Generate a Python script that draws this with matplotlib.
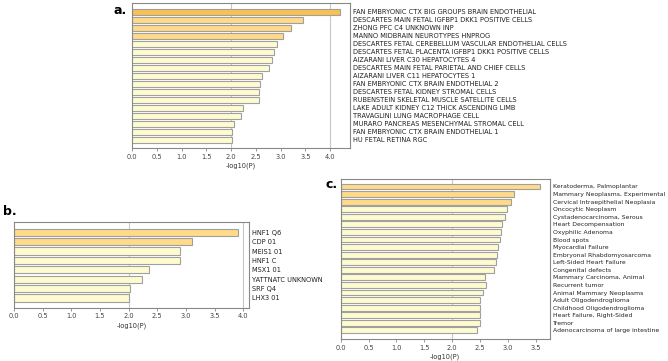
import matplotlib
matplotlib.use("Agg")
import matplotlib.pyplot as plt

# panel a: cell type signatures
a_labels = ["FAN EMBRYONIC CTX BIG GROUPS BRAIN ENDOTHELIAL",
            "DESCARTES MAIN FETAL IGFBP1 DKK1 POSITIVE CELLS",
            "ZHONG PFC C4 UNKNOWN INP",
            "MANNO MIDBRAIN NEUROTYPES HNPROG",
            "DESCARTES FETAL CEREBELLUM VASCULAR ENDOTHELIAL CELLS",
            "DESCARTES FETAL PLACENTA IGFBP1 DKK1 POSITIVE CELLS",
            "AIZARANI LIVER C30 HEPATOCYTES 4",
            "DESCARTES MAIN FETAL PARIETAL AND CHIEF CELLS",
            "AIZARANI LIVER C11 HEPATOCYTES 1",
            "FAN EMBRYONIC CTX BRAIN ENDOTHELIAL 2",
            "DESCARTES FETAL KIDNEY STROMAL CELLS",
            "RUBENSTEIN SKELETAL MUSCLE SATELLITE CELLS",
            "LAKE ADULT KIDNEY C12 THICK ASCENDING LIMB",
            "TRAVAGLINI LUNG MACROPHAGE CELL",
            "MURARO PANCREAS MESENCHYMAL STROMAL CELL",
            "FAN EMBRYONIC CTX BRAIN ENDOTHELIAL 1",
            "HU FETAL RETINA RGC"]
a_values = [4.20, 3.46, 3.20, 3.04, 2.92, 2.87, 2.82, 2.77, 2.62, 2.59,
            2.57, 2.56, 2.24, 2.19, 2.05, 2.02, 2.02]

# panel b: transcription factor targets
b_labels = ["HNF1 Q6", "CDP 01", "MEIS1 01", "HNF1 C", "MSX1 01",
            "YATTNATC UNKNOWN", "SRF Q4", "LHX3 01"]
b_values = [3.91, 3.10, 2.89, 2.89, 2.35, 2.24, 2.02, 2.01]

# panel c: disease associations
c_labels = ["Keratoderma, Palmoplantar", "Mammary Neoplasms, Experimental",
            "Cervical Intraepithelial Neoplasia", "Oncocytic Neoplasm",
            "Cystadenocarcinoma, Serous", "Heart Decompensation",
            "Oxyphilic Adenoma", "Blood spots", "Myocardial Failure",
            "Embryonal Rhabdomyosarcoma", "Left-Sided Heart Failure",
            "Congenital defects", "Mammary Carcinoma, Animal",
            "Recurrent tumor", "Animal Mammary Neoplasms",
            "Adult Oligodendroglioma", "Childhood Oligodendroglioma",
            "Heart Failure, Right-Sided", "Tremor",
            "Adenocarcinoma of large intestine"]
c_values = [3.58, 3.11, 3.05, 2.99, 2.94, 2.90, 2.88, 2.85, 2.83, 2.81,
            2.78, 2.75, 2.59, 2.60, 2.56, 2.50, 2.50, 2.50, 2.50, 2.45]

DARK = "#f9c052"
MID = "#ffda88"
LIGHT = "#fffbd0"
EDGE = "#a0a0a0"
FS = 4.8


def panel(fig, rect, labels, values, colors, xmax, margins, letter, letter_xy, lfs=FS):
    ax = fig.add_axes(rect)
    ys = list(range(len(values)))
    ax.barh(ys, values, height=0.78, color=colors, edgecolor=EDGE, linewidth=0.8, zorder=2)
    for g in (2.0, 4.0):
        if g < xmax:
            ax.axvline(g, color="#c8c8c8", linewidth=0.8, zorder=1)
    ax.set_xlim(0, xmax)
    ax.set_ylim(len(values) - 1 + margins[1], -margins[0])
    ax.set_yticks(ys)
    ax.set_yticklabels(labels, fontsize=lfs, color="#222222")
    ax.yaxis.tick_right()
    ax.tick_params(axis="y", length=0, pad=2)
    xt = [i * 0.5 for i in range(int(xmax / 0.5) + 1)]
    ax.set_xticks(xt)
    ax.set_xticklabels(["%.1f" % t for t in xt], fontsize=FS, color="#444444")
    ax.tick_params(axis="x", length=2, width=0.6, color="#888888", pad=2)
    ax.set_xlabel("-log10(P)", fontsize=FS, color="#333333", labelpad=2)
    for s in ax.spines.values():
        s.set_color("#888888")
        s.set_linewidth(0.8)
    fig.text(letter_xy[0], letter_xy[1], letter, fontsize=9, fontweight="bold",
             ha="left", va="center")
    return ax


fig = plt.figure(figsize=(6.68, 3.61), dpi=100)

panel(fig, [0.1976, 0.590, 0.3264, 0.4007], a_labels, a_values,
      [DARK] + [MID] * 3 + [LIGHT] * 13, 4.4, (1.05, 1.0),
      "a.", (0.170, 0.972))
panel(fig, [0.021, 0.147, 0.3517, 0.238], b_labels, b_values,
      [MID] * 2 + [LIGHT] * 6, 4.10, (1.09, 1.06),
      "b.", (0.004, 0.413))
panel(fig, [0.510, 0.061, 0.313, 0.443], c_labels, c_values,
      [MID] * 3 + [LIGHT] * 17, 3.75, (0.98, 1.13),
      "c.", (0.487, 0.488), lfs=4.4)

fig.savefig("out.png", dpi=100)
